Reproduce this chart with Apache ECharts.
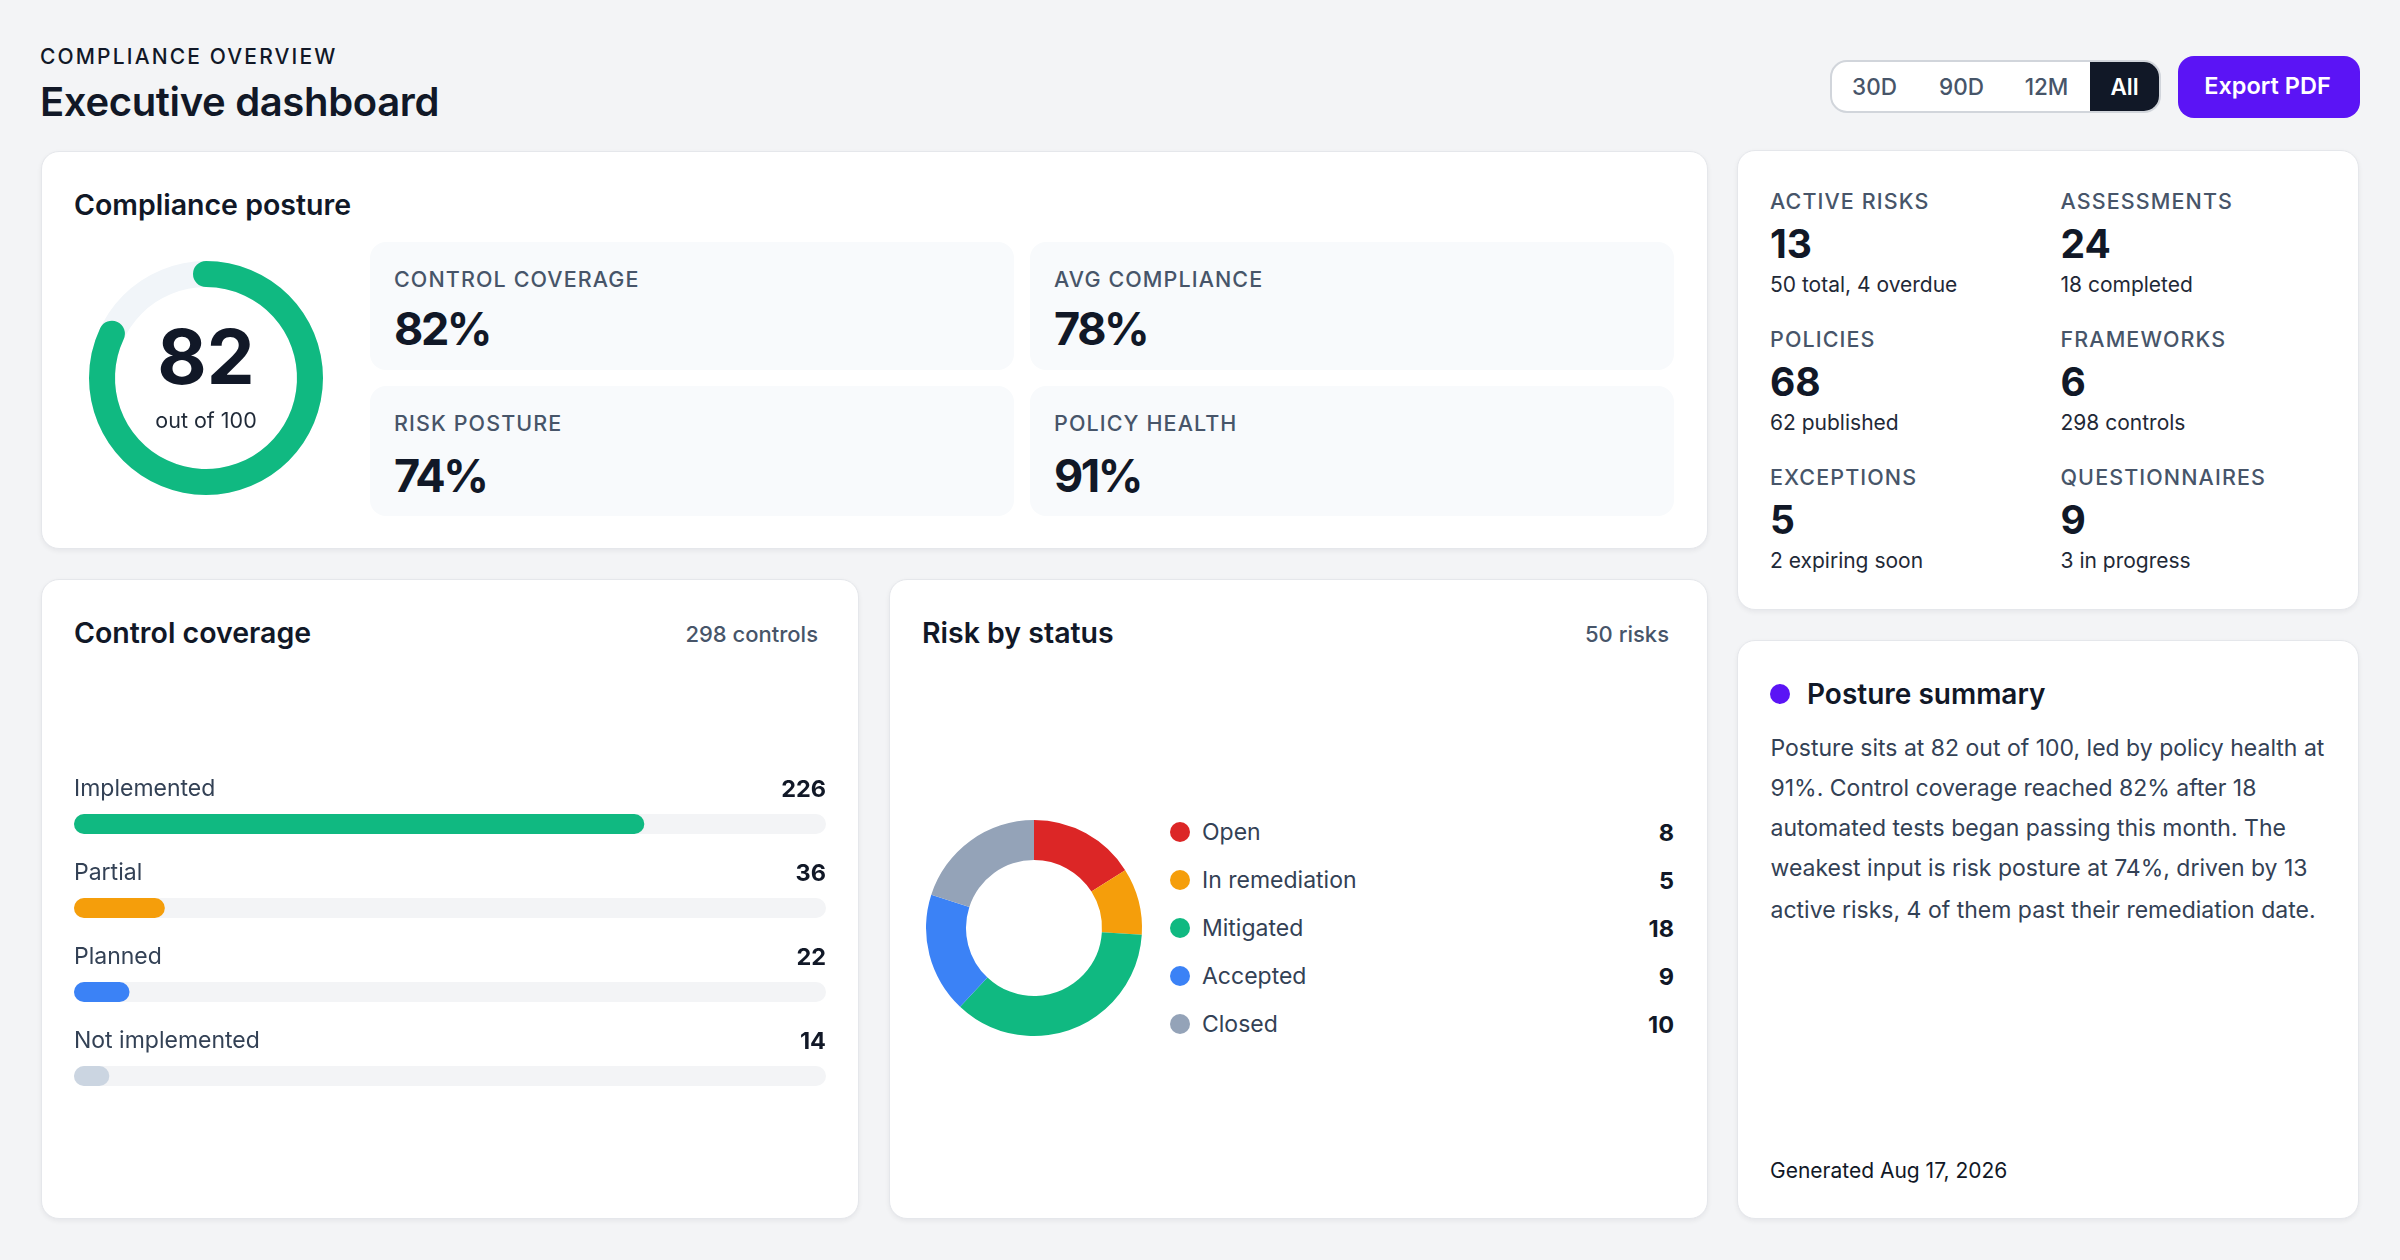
<!DOCTYPE html>
<html>
<head>
<meta charset="utf-8">
<title>Executive dashboard</title>
<script src="https://cdn.jsdelivr.net/npm/echarts@6/dist/echarts.min.js"></script>
<style>
    html, body { margin: 0; padding: 0; background: #f3f4f6; }
    body { width: 2400px; height: 1260px; position: relative; overflow: hidden; font-family: Inter, sans-serif; color: #111827; }
    .abs { position: absolute; white-space: nowrap; line-height: 1; }
    .card { position: absolute; box-sizing: border-box; background: #fff; border: 1.5px solid #e5e7eb; border-radius: 18px; box-shadow: 0 2px 5px rgba(17, 24, 39, .06); }
    .eyebrow { left: 40px; top: 46px; font-size: 21px; font-weight: 500; letter-spacing: 2.15px; }
    .page-title { left: 40px; top: 82px; font-size: 40px; font-weight: 600; letter-spacing: -.35px; }
    .card-title { font-size: 28.5px; font-weight: 600; letter-spacing: 0; }
    .card-note { font-size: 22px; font-weight: 500; color: #475569; text-align: right; }
    .segment { position: absolute; left: 1830px; top: 60px; width: 331px; height: 53px; box-sizing: border-box; border: 2px solid #d1d5db; border-radius: 17px; background: #fff; overflow: hidden; }
    .segment div { position: absolute; top: 0; height: 49px; line-height: 49px; text-align: center; font-size: 22.5px; font-weight: 500; color: #475569; }
    .segment .on { background: #111827; color: #fff; font-weight: 600; }
    .export { position: absolute; left: 2175px; top: 56px; width: 185px; height: 62px; line-height: 60px; text-indent: 0; text-align: center; background: #5b14f5; color: #fff; border-radius: 16px; font-size: 23.5px; font-weight: 600; }
    .tile { position: absolute; box-sizing: border-box; width: 644px; background: #f8fafc; border-radius: 16px; }
    .tile-label { font-size: 21.5px; font-weight: 500; letter-spacing: 1.1px; color: #475569; }
    .tile-value { font-size: 45px; font-weight: 700; letter-spacing: -2.4px; color: #111827; }
    .stat-label { font-size: 21.5px; font-weight: 500; letter-spacing: 1.1px; color: #475569; }
    .stat-value { font-size: 39px; font-weight: 700; }
    .stat-sub { font-size: 21px; color: #1f2937; }
    .row-label { font-size: 23px; color: #334155; }
    .row-value { font-size: 23.5px; font-weight: 700; text-align: right; }
    .dot { position: absolute; width: 20px; height: 20px; border-radius: 50%; }
    .summary { left: 1770.5px; font-size: 23px; color: #334155; }
    #postureChart, #coverageChart, #riskChart { position: absolute; }
</style>
</head>
<body>
<div class="abs eyebrow">COMPLIANCE OVERVIEW</div>
<div class="abs page-title">Executive dashboard</div>
<div class="segment" id="segment"></div>
<div class="export" style="left:2178px;width:182px;padding-right:3px;box-sizing:border-box">Export PDF</div>

<div class="card" style="left:40.5px;top:151px;width:1667.5px;height:398px"></div>
<div class="abs card-title" style="left:74px;top:191px">Compliance posture</div>
<div id="postureChart" style="left:80px;top:250px;width:252px;height:256px"></div>

<div class="card" style="left:40.5px;top:579px;width:818.5px;height:640px"></div>
<div class="abs card-title" style="left:74px;top:619px">Control coverage</div>
<div class="abs card-note" style="right:1582px;top:623px">298 controls</div>
<div id="coverageChart" style="left:74px;top:760px;width:752px;height:370px"></div>

<div class="card" style="left:888.5px;top:579px;width:819px;height:640px"></div>
<div class="abs card-title" style="left:922px;top:619px">Risk by status</div>
<div class="abs card-note" style="right:731px;top:623px">50 risks</div>
<div id="riskChart" style="left:914px;top:808px;width:240px;height:240px"></div>

<div class="card" style="left:1737px;top:150px;width:622px;height:460px"></div>
<div class="card" style="left:1737px;top:640px;width:622px;height:579px"></div>
<div class="dot" style="left:1770px;top:684px;background:#5b14f5"></div>
<div class="abs card-title" style="left:1807px;top:680px;font-size:28px">Posture summary</div>
<div class="abs" style="left:1770px;top:1160px;font-size:21px">Generated Aug 17, 2026</div>

<script>
    var postureScore = [82];
    var postureMax = 100;

    var tileLabels = ['CONTROL COVERAGE', 'AVG COMPLIANCE', 'RISK POSTURE', 'POLICY HEALTH'];
    var tileValues = ['82%', '78%', '74%', '91%'];

    var statLabels = ['ACTIVE RISKS', 'ASSESSMENTS', 'POLICIES', 'FRAMEWORKS', 'EXCEPTIONS', 'QUESTIONNAIRES'];
    var statValues = ['13', '24', '68', '6', '5', '9'];
    var statNotes = ['50 total, 4 overdue', '18 completed', '62 published', '298 controls', '2 expiring soon', '3 in progress'];

    var controlCategories = ['Implemented', 'Partial', 'Planned', 'Not implemented'];
    var controlValues = [226, 36, 22, 14];
    var controlColors = ['#10b981', '#f59e0b', '#3b82f6', '#cbd5e1'];
    var controlTotal = 298;

    var riskCategories = ['Open', 'In remediation', 'Mitigated', 'Accepted', 'Closed'];
    var riskValues = [8, 5, 18, 9, 10];
    var riskColors = ['#dc2626', '#f59e0b', '#10b981', '#3b82f6', '#94a3b8'];

    var ranges = ['30D', '90D', '12M', 'All'];
    var summaryLines = [
        'Posture sits at 82 out of 100, led by policy health at',
        '91%. Control coverage reached 82% after 18',
        'automated tests began passing this month. The',
        'weakest input is risk posture at 74%, driven by 13',
        'active risks, 4 of them past their remediation date.'
    ];

    function addText(cls, text, style) {
        var el = document.createElement('div');
        el.className = 'abs ' + cls;
        el.textContent = text;
        el.style.cssText = style;
        document.body.appendChild(el);
        return el;
    }

    // header range buttons
    var rangeLeft = [-1, 86, 171, 258];
    var rangeWidth = [87, 87, 87, 69];
    ranges.forEach(function (r, i) {
        var b = document.createElement('div');
        b.textContent = r;
        b.style.left = rangeLeft[i] + 'px';
        b.style.width = rangeWidth[i] + 'px';
        if (r === 'All') b.className = 'on';
        document.getElementById('segment').appendChild(b);
    });

    // score tiles
    tileLabels.forEach(function (label, i) {
        var x = i % 2 === 0 ? 370 : 1030;
        var y = i < 2 ? 242 : 386;
        var t = document.createElement('div');
        t.className = 'tile';
        t.style.cssText = 'left:' + x + 'px;top:' + y + 'px;height:' + (i < 2 ? 128 : 130) + 'px';
        document.body.appendChild(t);
        addText('tile-label', label, 'left:' + (x + 24) + 'px;top:' + (y + 26.5) + 'px');
        addText('tile-value', tileValues[i], 'left:' + (x + 24) + 'px;top:' + (y + (i < 2 ? 64 : 67)) + 'px');
    });

    // stat grid
    statLabels.forEach(function (label, i) {
        var x = i % 2 === 0 ? 1770 : 2060.5;
        var row = Math.floor(i / 2);
        var y = 190 + row * 138;
        addText('stat-label', label, 'left:' + x + 'px;top:' + (y + 0.5) + 'px');
        addText('stat-value', statValues[i], 'left:' + x + 'px;top:' + (y + 34) + 'px');
        addText('stat-sub', statNotes[i], 'left:' + x + 'px;top:' + (y + 84) + 'px');
    });

    // risk legend
    riskCategories.forEach(function (name, i) {
        var y = 832 + i * 48;
        var d = document.createElement('div');
        d.className = 'dot';
        d.style.cssText = 'left:1170px;top:' + (y - 10) + 'px;background:' + riskColors[i];
        document.body.appendChild(d);
        addText('row-label', name, 'left:1202px;top:' + (y - 11) + 'px');
        addText('row-value', riskValues[i], 'right:726px;top:' + (y - 11.5) + 'px');
    });

    summaryLines.forEach(function (line, i) {
        addText('summary', line, 'top:' + (i === 4 ? 899 : 737 + i * 40) + 'px');
    });

    var postureChart = echarts.init(document.getElementById('postureChart'));
    postureChart.setOption({
        animation: false,
        series: [{
            type: 'gauge',
            center: [126, 128],
            radius: 117,
            min: 0,
            max: postureMax,
            startAngle: 90,
            endAngle: -270,
            pointer: {show: false},
            axisTick: {show: false},
            splitLine: {show: false},
            axisLabel: {show: false},
            axisLine: {lineStyle: {width: 26, color: [[1, '#f1f5f9']]}},
            progress: {show: true, roundCap: true, width: 26, itemStyle: {color: '#10b981'}},
            title: {offsetCenter: [0, 44], fontSize: 21.5, fontFamily: 'Inter', color: '#1f2937'},
            detail: {offsetCenter: [0, -17], fontSize: 76, fontWeight: 700, fontFamily: 'Inter', color: '#111827', formatter: '{value}'},
            data: [{value: postureScore[0], name: 'out of ' + postureMax}]
        }]
    });

    var coverageChart = echarts.init(document.getElementById('coverageChart'));
    coverageChart.setOption({
        animation: false,
        grid: {left: 0, right: 0, top: 22, height: 336},
        xAxis: {type: 'value', min: 0, max: controlTotal, show: false},
        yAxis: {type: 'category', inverse: true, data: controlCategories, show: false},
        series: [{
            name: 'Total',
            type: 'bar',
            barWidth: 20,
            barGap: '-100%',
            silent: true,
            data: controlCategories.map(function () { return controlTotal; }),
            itemStyle: {color: '#f3f4f6', borderRadius: 10},
            label: {
                show: true,
                position: ['100%', -36],
                align: 'right',
                fontFamily: 'Inter',
                fontSize: 23.5,
                fontWeight: 700,
                color: '#111827',
                formatter: function (p) { return controlValues[p.dataIndex]; }
            }
        }, {
            name: 'Controls',
            type: 'bar',
            barWidth: 20,
            barGap: '-100%',
            data: controlValues.map(function (v, i) {
                return {value: v, itemStyle: {color: controlColors[i]}};
            }),
            itemStyle: {borderRadius: 10},
            label: {
                show: true,
                position: [0, -36],
                fontFamily: 'Inter',
                fontSize: 23,
                color: '#334155',
                formatter: '{b}'
            }
        }]
    });

    var riskChart = echarts.init(document.getElementById('riskChart'));
    riskChart.setOption({
        animation: false,
        series: [{
            type: 'pie',
            center: [120, 120],
            radius: [68, 108],
            startAngle: 90,
            label: {show: false},
            labelLine: {show: false},
            data: riskCategories.map(function (name, i) {
                return {name: name, value: riskValues[i], itemStyle: {color: riskColors[i]}};
            })
        }]
    });
</script>
</body>
</html>
